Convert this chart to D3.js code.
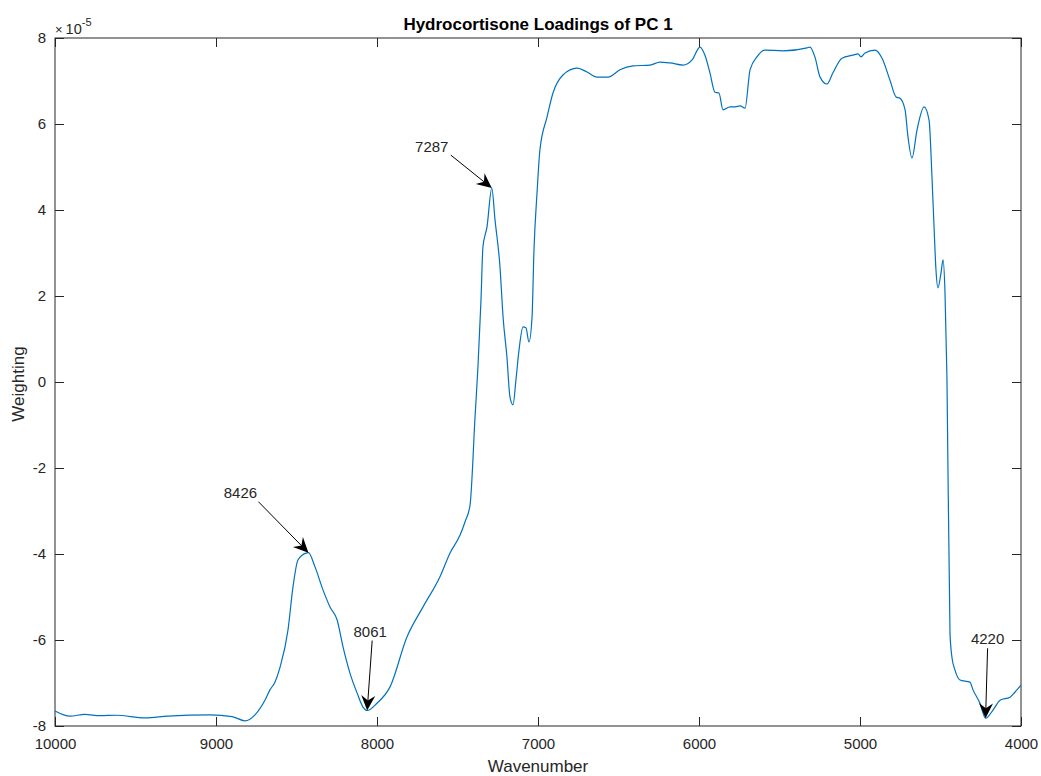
<!DOCTYPE html>
<html><head><meta charset="utf-8">
<script src="https://cdn.jsdelivr.net/npm/d3@7"></script>
<style>body{margin:0;background:#fff}svg{display:block}text{font-family:"Liberation Sans",Arial,sans-serif}</style>
</head><body><svg id="c" width="1041" height="776"></svg>
<script>
const wavenumbers = [10000,9907,9815,9720,9620,9441,9300,9037,8900,8820,8758,8696,8665,8634,8602,8553,8522,8491,8441,8426,8385,8335,8292,8248,8211,8168,8124,8087,8061,8000,7919,7814,7714,7609,7547,7484,7453,7422,7391,7373,7354,7342,7317,7287,7267,7236,7217,7193,7174,7155,7137,7118,7093,7075,7056,7037,7025,7006,6988,6944,6907,6845,6758,6696,6634,6565,6491,6410,6304,6242,6180,6099,6043,5994,5963,5932,5901,5876,5851,5807,5776,5745,5714,5683,5640,5590,5478,5329,5311,5280,5248,5205,5168,5112,5043,5012,4994,4969,4907,4863,4814,4776,4752,4720,4702,4677,4646,4602,4571,4553,4540,4528,4516,4497,4484,4472,4460,4441,4429,4410,4379,4317,4298,4255,4220,4174,4130,4068,4037,4000];
const weighting = [-7.65,-7.77,-7.73,-7.76,-7.75,-7.81,-7.77,-7.74,-7.78,-7.88,-7.74,-7.40,-7.16,-6.98,-6.63,-5.77,-4.77,-4.14,-3.98,-3.97,-4.30,-4.84,-5.23,-5.53,-6.16,-6.77,-7.23,-7.56,-7.64,-7.47,-7.09,-5.93,-5.23,-4.53,-3.98,-3.56,-3.25,-2.86,-0.81,0.35,1.91,3.14,3.60,4.51,3.77,2.67,1.51,0.58,-0.35,-0.53,0.05,0.74,1.28,1.26,0.93,1.51,3.07,4.40,5.40,6.16,6.72,7.14,7.30,7.21,7.09,7.09,7.26,7.35,7.37,7.44,7.42,7.37,7.49,7.79,7.60,7.19,6.74,6.72,6.33,6.40,6.40,6.42,6.37,7.26,7.56,7.72,7.70,7.77,7.79,7.56,7.09,6.93,7.19,7.53,7.60,7.63,7.56,7.65,7.72,7.53,7.02,6.63,6.60,6.33,5.70,5.21,5.86,6.40,6.09,4.77,3.60,2.60,2.19,2.53,2.84,2.07,0.12,-5.84,-6.40,-6.70,-6.93,-6.98,-7.16,-7.47,-7.82,-7.63,-7.40,-7.33,-7.21,-7.05];
const xTicks = [10000,9000,8000,7000,6000,5000,4000];
const yTicks = [-8,-6,-4,-2,0,2,4,6,8];
const annoLabels = ["8426","8061","7287","4220"];
const annoWn = [8426,8061,7287,4220];
const annoVal = [-3.97,-7.64,4.51,-7.82];
const titleText = "Hydrocortisone Loadings of PC 1";
const xLabel = "Wavenumber";
const yLabel = "Weighting";

const svg = d3.select("#c");
const L=55,R=1021,T=38,B=726;
const x = d3.scaleLinear().domain([10000,4000]).range([L,R]);
const y = d3.scaleLinear().domain([-8,8]).range([B,T]);
const axCol="#262626";
const ff='"Liberation Sans",Arial,sans-serif';

svg.append("rect").attr("x",L).attr("y",T).attr("width",R-L).attr("height",B-T).attr("fill","#fff");

const tl=9;
const gx=svg.append("g").attr("transform",`translate(0,${B})`).call(d3.axisBottom(x).tickValues(xTicks).tickSizeInner(-tl).tickSizeOuter(0).tickPadding(12).tickFormat(d3.format("d")));
const gxt=svg.append("g").attr("transform",`translate(0,${T})`).call(d3.axisTop(x).tickValues(xTicks).tickSizeInner(-tl).tickSizeOuter(0).tickFormat(""));
const gy=svg.append("g").attr("transform",`translate(${L},0)`).call(d3.axisLeft(y).tickValues(yTicks).tickSizeInner(-tl).tickSizeOuter(0).tickPadding(18).tickFormat(d=>d));
const gyr=svg.append("g").attr("transform",`translate(${R},0)`).call(d3.axisRight(y).tickValues(yTicks).tickSizeInner(-tl).tickSizeOuter(0).tickFormat(""));
[gx,gxt,gy,gyr].forEach(g=>{
  g.select(".domain").remove();
  g.selectAll(".tick line").attr("stroke",axCol).attr("stroke-width",1);
  g.selectAll(".tick text").attr("fill",axCol).attr("font-size",15).attr("font-family",ff);
});
gy.selectAll(".tick text").attr("dx",9);
svg.append("rect").attr("x",L).attr("y",T).attr("width",R-L).attr("height",B-T).attr("fill","none").attr("stroke",axCol).attr("stroke-width",1);

const data = wavenumbers.map((w,i)=>({w,v:weighting[i]}));
const line = d3.line().x(d=>x(d.w)).y(d=>y(d.v)).curve(d3.curveMonotoneX);
svg.append("path").datum(data).attr("d",line).attr("fill","none").attr("stroke","#0072BD").attr("stroke-width",1.2);

// annotations
const offs = [[-50,-51],[5,-70],[-41,-33],[2,-70]];
const textOffs = [[-68,-55],[3,-74],[-60,-36],[2,-74]];
annoLabels.forEach((lab,i)=>{
  const tx=x(annoWn[i]), ty=y(annoVal[i]);
  const sx=tx+offs[i][0], sy=ty+offs[i][1];
  const ang=Math.atan2(ty-sy,tx-sx);
  const hl=15, hw=7, back=5;
  const ca=Math.cos(ang), sa=Math.sin(ang);
  const bx=tx-hl*ca, by=ty-hl*sa;
  const mx=tx-(hl-back)*ca, my=ty-(hl-back)*sa;
  svg.append("line").attr("x1",sx).attr("y1",sy).attr("x2",mx).attr("y2",my).attr("stroke","#000").attr("stroke-width",1);
  const p=[[tx,ty],[bx-hw*sa,by+hw*ca],[mx,my],[bx+hw*sa,by-hw*ca]];
  svg.append("path").attr("d","M"+p.map(q=>q.join(",")).join("L")+"Z").attr("fill","#000");
  svg.append("text").attr("x",tx+textOffs[i][0]).attr("y",ty+textOffs[i][1]).attr("text-anchor","middle").attr("font-size",15).attr("fill","#262626").text(lab);
});

svg.append("text").attr("x",(L+R)/2).attr("y",30).attr("text-anchor","middle").attr("font-weight","bold").attr("font-size",17).attr("fill","#000").text(titleText);
svg.append("text").attr("x",(L+R)/2).attr("y",772).attr("text-anchor","middle").attr("font-size",17).attr("fill",axCol).text(xLabel);
svg.append("text").attr("transform",`translate(24,384) rotate(-90)`).attr("text-anchor","middle").attr("font-size",17).attr("fill",axCol).text(yLabel);
const ex=svg.append("text").attr("x",55).attr("y",34).attr("font-size",14.5).attr("fill",axCol);
ex.append("tspan").text("\u00d7").attr("font-size",13);
ex.append("tspan").text("10").attr("dx",3);
ex.append("tspan").text("-5").attr("font-size",11).attr("dy",-8);
</script></body></html>
